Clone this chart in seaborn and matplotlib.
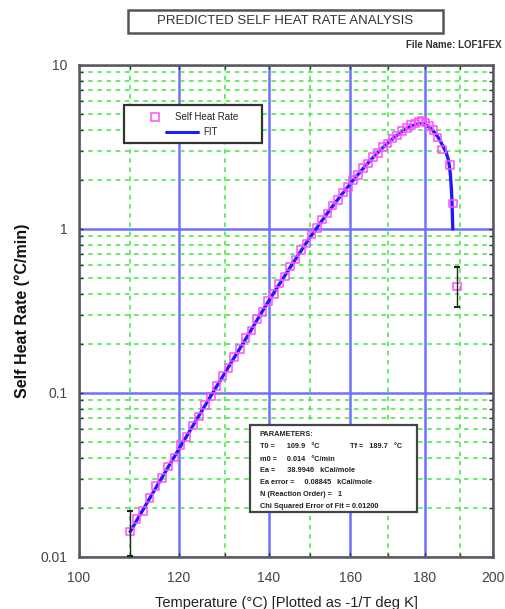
import numpy as np
import matplotlib
matplotlib.use("Agg")
import matplotlib.pyplot as plt
from matplotlib.patches import Rectangle
from matplotlib.ticker import FixedLocator, FixedFormatter, LogLocator, NullFormatter
import seaborn as sns

# ---- measured self heat rate data (deg C, deg C/min) ----
temp_data = [110.0, 111.3, 112.6, 113.9, 115.2, 116.5, 117.8, 119.1, 120.4, 121.7,
             123.0, 124.3, 125.6, 126.9, 128.2, 129.5, 130.8, 132.1, 133.4, 134.7,
             136.0, 137.3, 138.6, 139.9, 141.2, 142.5, 143.8, 145.1, 146.4, 147.7,
             149.0, 150.3, 151.6, 152.9, 154.2, 155.5, 156.8, 158.1, 159.4, 160.7,
             162.0, 163.3, 164.6, 165.9, 167.2, 168.5, 169.8, 171.1, 172.4, 173.7,
             175.0, 176.2, 177.3, 178.3, 179.2, 180.2, 181.3, 182.5, 183.6, 184.8,
             187.2, 188.1, 189.3]
rate_data = [0.0143, 0.0170, 0.0190, 0.0228, 0.0270, 0.0302, 0.0357, 0.0405, 0.0480, 0.0540,
             0.0634, 0.0720, 0.0845, 0.0950, 0.110, 0.127, 0.142, 0.166, 0.185, 0.216,
             0.241, 0.282, 0.313, 0.363, 0.403, 0.466, 0.514, 0.590, 0.650, 0.742,
             0.815, 0.926, 1.01, 1.14, 1.24, 1.39, 1.50, 1.67, 1.80, 1.99,
             2.14, 2.35, 2.51, 2.75, 2.91, 3.16, 3.32, 3.57, 3.72, 3.96,
             4.12, 4.30, 4.40, 4.52, 4.56, 4.45, 4.25, 4.00, 3.62, 3.05,
             2.46, 1.43, 0.445]

# ---- kinetic model fit ----
temp_fit = [110, 112, 114, 116, 118, 120, 122, 124, 126, 128,
            130, 132, 134, 136, 138, 140, 142, 144, 146, 148,
            150, 152, 154, 156, 158, 160, 162, 164, 166, 168,
            170, 172, 174, 176, 178, 179, 180, 181, 182, 183,
            184, 185, 186, 186.6, 187.0, 187.3, 187.6, 187.8, 188.0]
rate_fit = [0.01426, 0.01807, 0.02286, 0.02877, 0.03614, 0.04519, 0.05636, 0.07015, 0.08690, 0.1074,
            0.1321, 0.1626, 0.1986, 0.2432, 0.2985, 0.3631, 0.4395, 0.5284, 0.6324, 0.7551,
            0.8954, 1.052, 1.230, 1.429, 1.644, 1.888, 2.153, 2.438, 2.742, 3.055,
            3.373, 3.681, 3.963, 4.217, 4.37, 4.38, 4.33, 4.22, 4.05, 3.82,
            3.56, 3.25, 2.95, 2.70, 2.45, 2.15, 1.75, 1.40, 1.00]

# ---- uncertainty on first and last points ----
err_temp = [110.0, 189.3]
err_rate = [0.0143, 0.445]
err_low = [0.0101, 0.336]
err_high = [0.0190, 0.589]

x_ticks = [100, 120, 140, 160, 180, 200]
x_minor = [110, 130, 150, 170, 190]
y_ticks = [0.01, 0.1, 1, 10]
y_tick_labels = ["0.01", "0.1", "1", "10"]

param_lines = [
    ("PARAMETERS:", None),
    ("T0 =      109.9   \u00b0C", "Tf =   189.7   \u00b0C"),
    ("m0 =     0.014   \u00b0C/min", None),
    ("Ea =      38.9946   kCal/mole", None),
    ("Ea error =     0.08845   kCal/mole", None),
    ("N (Reaction Order) =   1", None),
    ("Chi Squared Error of Fit = 0.01200", None),
]

sns.set_theme(style="white")
plt.rcParams["font.family"] = ["Liberation Sans", "DejaVu Sans"]

fig = plt.figure(figsize=(5.05, 6.09), dpi=100)
fig.patch.set_facecolor("white")
ax = fig.add_axes([0.1564, 0.0854, 0.8198, 0.8079])


def inv_kelvin(t):
    return -1.0 / (np.asarray(t, dtype=float) + 273.15)


def from_inv_kelvin(u):
    u = np.asarray(u, dtype=float)
    with np.errstate(divide="ignore", invalid="ignore"):
        return -1.0 / u - 273.15


ax.set_xscale("function", functions=(inv_kelvin, from_inv_kelvin))
ax.set_yscale("log")
ax.set_xlim(100, 200)
ax.set_ylim(0.01, 10)

# grid: blue solid majors, green dashed minors
ax.xaxis.set_major_locator(FixedLocator(x_ticks))
ax.xaxis.set_minor_locator(FixedLocator(x_minor))
ax.xaxis.set_major_formatter(FixedFormatter([str(v) for v in x_ticks]))
ax.xaxis.set_minor_formatter(NullFormatter())
ax.yaxis.set_major_locator(FixedLocator(y_ticks))
ax.yaxis.set_major_formatter(FixedFormatter(y_tick_labels))
ax.yaxis.set_minor_locator(LogLocator(base=10, subs=np.arange(2, 10)))
ax.yaxis.set_minor_formatter(NullFormatter())

ax.grid(which="major", color="#7070ff", linewidth=1.8, linestyle="-", zorder=0)
ax.grid(which="minor", color="#3ee83e", linewidth=1.1, linestyle=(0, (3, 3)), zorder=0)
ax.set_axisbelow(True)

sns.lineplot(x=temp_fit, y=rate_fit, ax=ax, color="#1c1cff", linewidth=2.4,
             estimator=None, sort=False, zorder=3)
sns.scatterplot(x=temp_data, y=rate_data, ax=ax, marker="s", s=30,
                facecolors="none", edgecolor="#ff4dff", linewidth=1.1, zorder=4)

yerr = [np.array(err_rate) - np.array(err_low), np.array(err_high) - np.array(err_rate)]
ax.errorbar(err_temp, err_rate, yerr=yerr, fmt="none", ecolor="#222222",
            elinewidth=1.0, capsize=2.5, capthick=1.5, zorder=5)

for s in ax.spines.values():
    s.set_color("#5a5a5a")
    s.set_linewidth(1.8)
    s.set_visible(True)

ax.tick_params(which="both", direction="in", top=True, bottom=True, left=True, right=True,
               color="#333333", width=1.0)
ax.tick_params(which="major", length=3, labelsize=10, labelcolor="#444444")
ax.tick_params(axis="x", which="major", pad=10)
ax.tick_params(axis="y", which="major", pad=8)
ax.tick_params(which="minor", length=3)

ax.set_xlabel("Temperature (\u00b0C) [Plotted as -1/T deg K]", fontsize=10.5, color="#222222",
              labelpad=8)
ax.set_ylabel("Self Heat Rate (\u00b0C/min)", fontsize=11.5, color="#111111",
              fontweight="bold", labelpad=8)

# legend panel
ax.add_patch(Rectangle((0.1087, 0.8415), 0.3333, 0.0772, transform=ax.transAxes,
                       facecolor="white", edgecolor="#333333", linewidth=1.6, zorder=6))
ax.plot([0.1836], [0.8943], transform=ax.transAxes, marker="s", markersize=5.5,
        markerfacecolor="none", markeredgecolor="#ff4dff", markeredgewidth=1.1,
        linestyle="none", zorder=7)
ax.text(0.2319, 0.8943, "Self Heat Rate", transform=ax.transAxes, fontsize=7,
        va="center", ha="left", color="#222222", zorder=7)
ax.plot([0.2101, 0.2874], [0.8638, 0.8638], transform=ax.transAxes, color="#1c1cff",
        linewidth=2.2, zorder=7)
ax.text(0.2995, 0.8638, "FIT", transform=ax.transAxes, fontsize=7,
        va="center", ha="left", color="#222222", zorder=7)

# parameter panel
ax.add_patch(Rectangle((0.413, 0.0915), 0.4034, 0.1768, transform=ax.transAxes,
                       facecolor="white", edgecolor="#444444", linewidth=1.6, zorder=6))
line_y = [0.248, 0.2242, 0.1986, 0.1748, 0.151, 0.128, 0.1022]
for (left_txt, right_txt), yy in zip(param_lines, line_y):
    ax.text(0.4372, yy, left_txt, transform=ax.transAxes, fontsize=5.3,
            fontweight="bold", va="center", ha="left", color="#222222", zorder=7)
    if right_txt:
        ax.text(0.6546, yy, right_txt, transform=ax.transAxes, fontsize=5.3,
                fontweight="bold", va="center", ha="left", color="#222222", zorder=7)

# heading box and file name
fig.patches.append(Rectangle((128 / 505, 1 - 33 / 609), 315 / 505, 23 / 609,
                             transform=fig.transFigure, facecolor="white",
                             edgecolor="#555555", linewidth=1.8))
fig.text(285.5 / 505, 1 - 21.5 / 609, "PREDICTED SELF HEAT RATE ANALYSIS", fontsize=9.5,
         ha="center", va="center", color="#333333")
fig.text(502 / 505, 1 - 45 / 609, "File Name: LOF1FEX", fontsize=7, fontweight="bold",
         ha="right", va="center", color="#333333")

fig.savefig("out.png", dpi=100, facecolor="white")
